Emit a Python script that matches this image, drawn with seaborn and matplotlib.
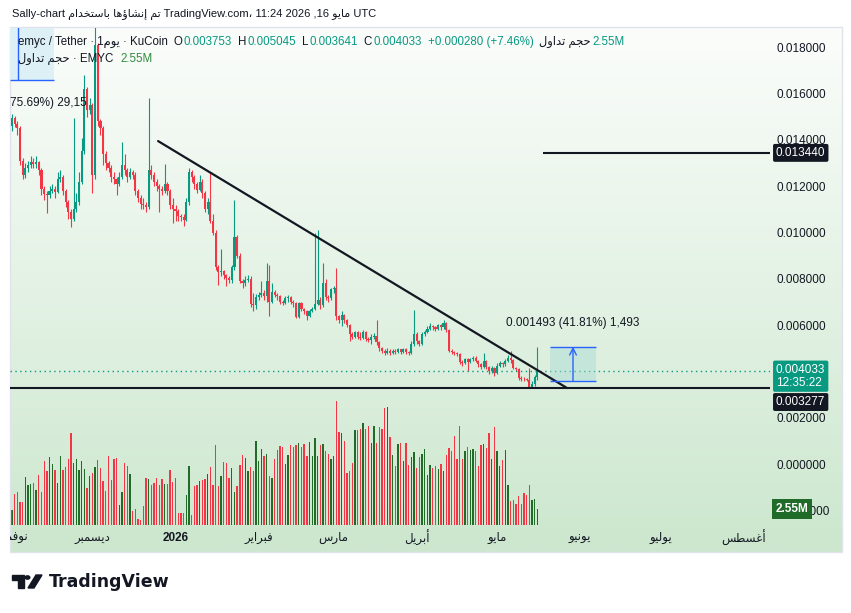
from __future__ import annotations

import matplotlib

matplotlib.use("Agg")
import matplotlib.pyplot as plt
import matplotlib.transforms as mtransforms
from matplotlib.patches import Circle, Polygon, Rectangle
import numpy as np
import pandas as pd
import seaborn as sns

FIG_W, FIG_H = 851, 613
START = pd.Timestamp("2025-11-01")

# EMYC/USDT daily candles from 1 Nov 2025, prices in 0.001 USDT
FIRST_OPEN = 14.6
CLOSE = [
    14.95, 14.7, 14.5, 13.1, 12.5, 12.8, 12.9, 13.05, 12.95, 13.05,
    12.7, 11.9, 11.65, 11.6, 11.8, 11.9, 11.75, 12.3, 12.4, 11.8,
    11.3, 10.9, 10.6, 11.0, 11.3, 12.2, 13.5, 16.2, 15.3, 15.5,
    12.5, 18.1, 14.8, 14.5, 13.4, 13.0, 12.8, 12.4, 12.3, 12.1,
    12.4, 12.9, 12.7, 12.4, 12.6, 12.5, 11.8, 11.5, 11.25, 11.2,
    11.1, 12.7, 12.5, 12.2, 12.0, 11.9, 11.8, 12.1, 11.8, 11.2,
    11.0, 10.95, 10.7, 10.65, 10.55, 11.3, 12.6, 12.4, 12.1, 11.85,
    12.2, 11.7, 11.0, 11.3, 10.5, 10.0, 8.5, 8.3, 8.35, 8.15,
    8.05, 7.95, 8.5, 9.8, 9.0, 7.9, 7.8, 7.95, 8.0, 6.9,
    6.85, 7.2, 7.3, 7.4, 7.25, 7.9, 7.0, 7.45, 7.3, 7.25,
    7.0, 6.95, 7.15, 7.2, 7.0, 6.95, 6.35, 6.95, 6.7, 6.6,
    6.4, 6.6, 6.7, 6.9, 7.1, 6.85, 7.8, 7.2, 7.15, 7.55,
    7.6, 6.4, 6.2, 6.45, 6.2, 6.0, 5.6, 5.5, 5.7, 5.5,
    5.45, 5.7, 5.4, 5.35, 5.5, 5.55, 5.25, 5.0, 4.9, 4.8,
    4.9, 4.8, 4.9, 4.85, 4.95, 4.85, 4.95, 4.85, 4.8, 5.2,
    5.6, 5.3, 5.2, 5.6, 5.7, 5.85, 5.95, 5.9, 5.85, 6.0,
    5.9, 6.1, 5.8, 4.9, 4.85, 4.8, 4.75, 4.4, 4.35, 4.55,
    4.4, 4.55, 4.6, 4.45, 4.3, 4.2, 4.45, 4.2, 4.0, 4.15,
    3.95, 4.25, 4.35, 4.3, 4.45, 4.6, 4.5, 4.15, 4.1, 3.72,
    3.68, 3.66, 3.64, 3.33, 3.45, 3.753, 4.033,
]
HIGH = [
    15.1, 15.05, 14.8, 14.6, 13.2, 13.0, 13.1, 13.3, 13.2, 13.3,
    13.1, 12.8, 12.0, 11.8, 12.0, 12.1, 12.0, 12.6, 12.7, 12.5,
    11.9, 11.4, 11.0, 14.95, 11.7, 12.6, 14.1, 16.8, 16.3, 15.8,
    15.6, 19.5, 18.2, 14.9, 14.6, 13.5, 13.1, 12.9, 12.6, 12.4,
    12.6, 13.9, 13.4, 12.8, 12.8, 12.7, 12.6, 11.9, 11.6, 11.5,
    11.3, 15.8, 12.9, 12.6, 12.3, 12.1, 12.0, 12.95, 12.2, 11.9,
    11.5, 11.2, 11.0, 10.8, 10.8, 11.5, 12.8, 12.7, 12.5, 12.2,
    12.5, 12.3, 11.8, 11.5, 12.6, 10.8, 10.1, 8.6, 9.3, 8.4,
    8.2, 8.1, 8.6, 11.4, 9.9, 9.1, 8.0, 8.1, 8.15, 8.1,
    7.4, 7.35, 7.45, 7.9, 7.5, 8.7, 8.6, 7.8, 7.5, 7.4,
    7.3, 7.1, 7.25, 7.3, 7.25, 7.1, 7.0, 7.0, 7.0, 6.75,
    6.65, 6.7, 6.8, 10.0, 10.1, 7.2, 8.7, 8.0, 7.3, 7.6,
    7.7, 8.45, 6.45, 6.6, 6.5, 6.25, 6.05, 5.7, 5.75, 5.75,
    5.7, 5.8, 5.75, 5.5, 5.6, 5.65, 6.2, 5.3, 5.05, 4.95,
    5.0, 4.95, 4.95, 4.95, 5.0, 4.98, 5.0, 5.0, 4.9, 5.3,
    6.65, 5.7, 5.35, 5.7, 5.8, 5.95, 6.1, 6.0, 5.95, 6.05,
    6.05, 6.2, 6.15, 5.85, 4.95, 4.9, 4.85, 4.8, 4.5, 4.6,
    4.6, 4.6, 4.65, 4.65, 4.5, 4.35, 4.8, 4.5, 4.25, 4.25,
    4.2, 4.35, 4.45, 4.4, 4.55, 4.7, 4.9, 4.55, 4.2, 4.15,
    3.8, 3.75, 3.72, 4.15, 3.6, 3.85, 5.045,
]
LOW = [
    14.4, 14.55, 14.2, 12.9, 12.3, 12.35, 12.6, 12.8, 12.8, 12.8,
    12.5, 11.6, 11.4, 10.85, 11.5, 11.7, 11.5, 11.7, 12.2, 11.6,
    11.1, 10.6, 10.25, 10.5, 10.9, 11.2, 12.1, 13.4, 15.0, 15.1,
    11.7, 12.3, 14.6, 14.2, 12.9, 12.7, 12.6, 12.2, 12.1, 11.6,
    12.0, 12.3, 12.5, 12.2, 12.3, 12.3, 11.6, 11.3, 11.0, 11.0,
    10.9, 11.0, 12.3, 12.0, 11.8, 10.9, 11.6, 11.7, 11.6, 11.0,
    10.4, 10.5, 10.5, 10.5, 10.3, 10.5, 11.2, 12.2, 11.9, 11.7,
    11.8, 11.5, 10.9, 10.8, 10.4, 9.9, 8.4, 7.75, 8.1, 8.0,
    7.7, 7.8, 7.8, 8.4, 8.9, 7.8, 7.6, 7.7, 7.85, 6.8,
    6.6, 6.7, 7.1, 7.2, 7.1, 7.0, 6.4, 6.95, 7.2, 7.1,
    6.9, 6.85, 6.9, 7.0, 6.9, 6.8, 6.3, 6.3, 6.6, 6.5,
    6.2, 6.35, 6.55, 6.65, 6.85, 6.7, 6.8, 7.1, 7.0, 7.1,
    7.4, 6.2, 6.1, 5.95, 6.1, 5.9, 5.3, 5.4, 5.45, 5.4,
    5.35, 5.4, 5.3, 5.25, 5.2, 5.4, 5.15, 4.9, 4.8, 4.7,
    4.75, 4.7, 4.75, 4.75, 4.8, 4.75, 4.8, 4.75, 4.7, 4.75,
    5.1, 5.2, 5.1, 5.15, 5.55, 5.65, 5.8, 5.8, 5.75, 5.8,
    5.8, 5.85, 5.7, 4.85, 4.75, 4.7, 4.65, 4.3, 4.25, 4.3,
    4.0, 4.35, 4.45, 4.4, 4.2, 4.1, 4.15, 4.1, 3.9, 3.95,
    3.8, 3.9, 4.2, 4.2, 4.25, 4.4, 4.35, 4.1, 4.0, 3.65,
    3.6, 3.6, 3.58, 3.28, 3.28, 3.35, 3.641,
]
# daily volume, millions of EMYC
VOLUME = [
    2.4, 5.0, 5.2, 3.7, 3.7, 7.6, 6.4, 6.5, 6.7, 5.6,
    7.9, 5.3, 10.2, 8.6, 10.8, 9.7, 8.7, 6.7, 11.0, 8.7,
    9.2, 10.5, 14.6, 9.9, 10.5, 8.7, 10.2, 8.9, 5.9, 7.8,
    8.3, 9.2, 10.3, 9.1, 7.0, 5.4, 11.0, 7.2, 10.5, 10.7,
    3.2, 5.2, 9.9, 9.4, 8.1, 2.2, 2.5, 1.0, 0.8, 3.0,
    7.5, 7.3, 6.4, 6.7, 7.5, 6.4, 7.3, 6.5, 6.5, 8.7,
    6.8, 7.5, 1.9, 1.9, 1.9, 4.8, 9.4, 1.6, 6.2, 6.4,
    7.0, 7.2, 7.3, 8.1, 9.2, 6.4, 12.7, 6.2, 7.8, 10.0,
    9.9, 7.5, 9.1, 5.2, 6.2, 9.5, 11.1, 10.7, 8.6, 9.2,
    8.6, 13.4, 10.2, 12.1, 11.0, 11.3, 7.8, 7.5, 10.5, 11.9,
    12.6, 12.4, 9.7, 11.1, 12.7, 12.4, 12.7, 13.0, 12.4, 12.9,
    11.0, 13.2, 11.0, 13.8, 11.0, 12.7, 12.9, 11.8, 11.3, 10.5,
    11.0, 19.7, 14.8, 14.6, 13.4, 8.3, 8.6, 9.9, 15.1, 15.1,
    15.3, 16.2, 15.3, 15.7, 13.0, 15.7, 13.0, 15.6, 15.3, 18.6,
    18.8, 14.0, 11.1, 9.4, 12.9, 13.0, 10.2, 13.0, 9.5, 10.8,
    11.6, 9.1, 10.8, 11.3, 12.1, 8.0, 9.5, 9.1, 9.4, 8.9,
    9.7, 8.6, 11.1, 12.2, 11.8, 14.2, 10.5, 15.7, 10.5, 11.8,
    12.4, 11.9, 12.1, 11.8, 9.4, 12.7, 12.9, 12.2, 14.6, 10.5,
    15.6, 11.8, 9.4, 10.3, 11.9, 6.4, 3.8, 4.0, 3.3, 4.6,
    3.3, 5.1, 4.8, 6.4, 4.0, 4.1, 2.55,
]

MONTH_STARTS = ["2025-11-01", "2025-12-01", "2026-01-01", "2026-02-01", "2026-03-01",
                "2026-04-01", "2026-05-01", "2026-06-01", "2026-07-01", "2026-08-01"]
MONTH_NAMES = ["نوفمبر", "ديسمبر", "2026", "فبراير", "مارس", "أبريل", "مايو", "يونيو", "يوليو", "أغسطس"]
# 0.004 sits under the live-price label, so TradingView leaves it out
PRICE_TICKS = [-0.002, 0.0, 0.002, 0.006, 0.008, 0.010, 0.012, 0.014, 0.016, 0.018]

# drawings (x in days since START, price in 0.001 USDT)
TREND_X = [54.5, 207.1]
TREND_Y = [13.95, 3.28]
RESISTANCE = 13.44
RESISTANCE_FROM = 198.1
SUPPORT = 3.277
LAST_PRICE = 4.033
RANGE_X = [200.7, 217.9]
RANGE_Y = [3.571, 5.064]
OLD_RANGE_RIGHT = 15.7
OLD_RANGE_LOW = 16.59
OLD_RANGE_ARROW = 2.2

DARK = "#131722"
UP = "#089981"
DOWN = "#f23645"
VOL_UP = "#1f6b27"
BLUE = "#2962ff"

# Arabic contextual forms: (isolated, final[, initial, medial]); matplotlib does no shaping
AR_FORMS = {
    "ا": "\ufe8d\ufe8e", "أ": "\ufe83\ufe84", "إ": "\ufe87\ufe88", "ؤ": "\ufe85\ufe86",
    "د": "\ufea9\ufeaa", "ر": "\ufead\ufeae", "و": "\ufeed\ufeee",
    "ب": "\ufe8f\ufe90\ufe91\ufe92", "ت": "\ufe95\ufe96\ufe97\ufe98", "ج": "\ufe9d\ufe9e\ufe9f\ufea0",
    "ح": "\ufea1\ufea2\ufea3\ufea4", "خ": "\ufea5\ufea6\ufea7\ufea8", "س": "\ufeb1\ufeb2\ufeb3\ufeb4",
    "ش": "\ufeb5\ufeb6\ufeb7\ufeb8", "ط": "\ufec1\ufec2\ufec3\ufec4", "غ": "\ufecd\ufece\ufecf\ufed0",
    "ف": "\ufed1\ufed2\ufed3\ufed4", "ل": "\ufedd\ufede\ufedf\ufee0", "م": "\ufee1\ufee2\ufee3\ufee4",
    "ن": "\ufee5\ufee6\ufee7\ufee8", "ه": "\ufee9\ufeea\ufeeb\ufeec", "ي": "\ufef1\ufef2\ufef3\ufef4",
}


def ar(text: str) -> str:
    out = []
    for i, ch in enumerate(text):
        forms = AR_FORMS.get(ch)
        if forms is None:
            out.append(ch)
            continue
        prev = AR_FORMS.get(text[i - 1]) if i > 0 else None
        nxt = AR_FORMS.get(text[i + 1]) if i + 1 < len(text) else None
        join_prev = prev is not None and len(prev) == 4
        join_next = nxt is not None and len(forms) == 4
        if join_prev and join_next:
            out.append(forms[3])
        elif join_prev:
            out.append(forms[1])
        elif join_next:
            out.append(forms[2])
        else:
            out.append(forms[0])
    return "".join(reversed(out))


def fx(px: float) -> float:
    return px / FIG_W


def fy(py: float) -> float:
    return 1 - py / FIG_H


def write_pieces(fig, x_px, y_px, pieces, size):
    renderer = fig.canvas.get_renderer()
    x = x_px
    for text, color, gap in pieces:
        t = fig.text(fx(x), fy(y_px), text, color=color, fontsize=size, ha="left", va="center")
        x += t.get_window_extent(renderer).width + gap


def main() -> None:
    sns.set_theme(style="white")
    plt.rcParams["font.family"] = ["Liberation Sans", "DejaVu Sans"]

    day = np.arange(len(CLOSE))
    close = np.array(CLOSE) * 1e-3
    high = np.array(HIGH) * 1e-3
    low = np.array(LOW) * 1e-3
    open_ = np.concatenate([[FIRST_OPEN * 1e-3], close[:-1]])
    up = close >= open_

    fig = plt.figure(figsize=(FIG_W / 100, FIG_H / 100), dpi=100)

    # panel background: white fading into pale green
    bg = fig.add_axes([fx(10), fy(552), fx(832), 525 / FIG_H], zorder=0)
    top = np.array([251, 253, 251]) / 255
    bottom = np.array([204, 231, 206]) / 255
    t = np.linspace(0, 1, 256)[:, None, None]
    bg.imshow(top * (1 - t) + bottom * t, extent=[0, 1, 0, 1], aspect="auto")
    bg.set_axis_off()
    fig.patches.append(Rectangle((fx(10), fy(552)), fx(832), 525 / FIG_H, transform=fig.transFigure,
                                 fill=False, edgecolor="#e0e3eb", linewidth=1, zorder=1))

    ax = fig.add_axes([fx(10), fy(552), fx(760), 524 / FIG_H], zorder=2)
    axv = ax.twinx()
    axv.set_zorder(1)
    ax.patch.set_visible(False)
    axv.patch.set_visible(False)

    # volume
    vol = pd.DataFrame({"day": day, "volume": VOLUME, "dir": np.where(up, "up", "down")})
    sns.barplot(data=vol, x="day", y="volume", hue="dir", palette={"up": VOL_UP, "down": DOWN},
                native_scale=True, dodge=False, width=0.5, errorbar=None, legend=False,
                saturation=1, linewidth=0, ax=axv)
    axv.set_ylim(-4.29, 79.0)
    axv.set_yticks([])
    axv.set_ylabel("")
    axv.set_xlabel("")

    # candles
    colors = np.where(up, UP, DOWN)
    ax.vlines(day, low, high, colors=colors, linewidth=0.8, zorder=2)
    ax.bar(day, close - open_, bottom=open_, width=0.78, color=colors, linewidth=0, zorder=3)

    xmin, xmax = -0.75, 282.8
    ax.set_xlim(xmin, xmax)
    ax.set_ylim(-0.003801, 0.018834)

    # drawings
    ax.plot(TREND_X, np.array(TREND_Y) * 1e-3, color=DARK, linewidth=1.6, zorder=5)
    ax.hlines(RESISTANCE * 1e-3, RESISTANCE_FROM, xmax, color=DARK, linewidth=1.5, zorder=5)
    ax.axhline(SUPPORT * 1e-3, color=DARK, linewidth=1.5, zorder=5)
    ax.axhline(LAST_PRICE * 1e-3, color=UP, linewidth=1, linestyle=(0, (1, 2.5)), zorder=4)

    lo, hi = RANGE_Y[0] * 1e-3, RANGE_Y[1] * 1e-3
    ax.add_patch(Rectangle((RANGE_X[0], lo), RANGE_X[1] - RANGE_X[0], hi - lo,
                           facecolor="#a7dcd6", alpha=0.45, edgecolor="none", zorder=4))
    ax.hlines([lo, hi], RANGE_X[0], RANGE_X[1], color=BLUE, linewidth=1, zorder=5)
    mid = (RANGE_X[0] + RANGE_X[1]) / 2
    ax.annotate("", xy=(mid, hi), xytext=(mid, lo),
                arrowprops=dict(arrowstyle="->", color=BLUE, lw=1, shrinkA=0, shrinkB=0), zorder=5)
    ax.annotate("0.001493 (41.81%) 1,493", xy=(mid, hi), xytext=(0, 17), textcoords="offset points",
                ha="center", va="center", fontsize=8.5, color=DARK, zorder=6)

    ax.add_patch(Rectangle((xmin - 5, OLD_RANGE_LOW * 1e-3), OLD_RANGE_RIGHT - xmin + 5, 0.01,
                           facecolor="#dcf0f6", edgecolor="none", zorder=1))
    ax.hlines(OLD_RANGE_LOW * 1e-3, xmin, OLD_RANGE_RIGHT, color=BLUE, linewidth=1, zorder=5)
    ax.vlines(OLD_RANGE_ARROW, OLD_RANGE_LOW * 1e-3, 0.02, color=BLUE, linewidth=1, zorder=5)
    ax.text(xmin, 0.015594, "75.69%) 29,15", fontsize=8.5, color=DARK, ha="left", va="center", zorder=6)

    # price scale
    ax.yaxis.tick_right()
    ax.set_yticks(PRICE_TICKS)
    ax.set_yticklabels([f"{v:.6f}" for v in PRICE_TICKS])
    ax.tick_params(axis="y", length=0, pad=5, labelsize=8.5, labelcolor=DARK)
    ax.set_xticks([])
    sns.despine(ax=ax, left=True, bottom=True, right=True, top=True)
    sns.despine(ax=axv, left=True, bottom=True, right=True, top=True)

    for start, name in zip(MONTH_STARTS, MONTH_NAMES):
        pos = (pd.Timestamp(start) - START).days
        bold = name.isdigit()
        ax.text(pos, 0.0267, name if bold else ar(name), transform=ax.get_xaxis_transform(),
                ha="center", va="center", fontsize=8.5, color=DARK,
                fontweight="bold" if bold else "normal", clip_on=True)

    side = mtransforms.blended_transform_factory(ax.transAxes, ax.transData)
    label_x = 1 + 6 / 760
    box = dict(boxstyle="round,pad=0.25,rounding_size=0.15", ec="none")
    ax.annotate("0.013440", xy=(label_x, RESISTANCE * 1e-3), xycoords=side, ha="left", va="center",
                fontsize=8.5, color="white", annotation_clip=False, zorder=7, bbox={**box, "fc": DARK})
    ax.annotate("0.004033\n12:35:22", xy=(label_x, LAST_PRICE * 1e-3), xycoords=side,
                xytext=(0, -4), textcoords="offset points", ha="left", va="center",
                fontsize=8.5, color="white", linespacing=1.15, annotation_clip=False, zorder=7,
                bbox={**box, "fc": UP})
    ax.annotate("0.003277", xy=(label_x, SUPPORT * 1e-3), xycoords=side,
                xytext=(0, -10), textcoords="offset points", ha="left", va="center",
                fontsize=8.5, color="white", annotation_clip=False, zorder=7, bbox={**box, "fc": DARK})
    vol_side = mtransforms.blended_transform_factory(ax.transAxes, axv.transData)
    ax.annotate("2.55M", xy=(label_x, VOLUME[-1]), xycoords=vol_side, ha="left", va="center",
                fontsize=8.5, color="white", fontweight="bold", annotation_clip=False, zorder=7,
                bbox=dict(boxstyle="square,pad=0.3", fc=VOL_UP, ec="none"))

    # header texts
    fig.text(fx(12), fy(14), "Sally-chart " + ar("تم إنشاؤها باستخدام") + " TradingView.com، 11:24 2026 ,16 "
             + ar("مايو") + " UTC", fontsize=8.0, color=DARK, ha="left", va="center")
    write_pieces(fig, 18, 42, [
        ("emyc / Tether · 1" + ar("يوم") + " · KuCoin", DARK, 6),
        ("O", DARK, 1), ("0.003753", UP, 6),
        ("H", DARK, 1), ("0.005045", UP, 6),
        ("L", DARK, 1), ("0.003641", UP, 6),
        ("C", DARK, 1), ("0.004033", UP, 6),
        ("+0.000280 (+7.46%)", UP, 6),
        (ar("حجم تداول"), DARK, 1), ("2.55M", UP, 0),
    ], 8.3)
    write_pieces(fig, 18, 59, [
        (ar("حجم تداول") + " · EMYC", DARK, 7), ("2.55M", "#2e8b3d", 0),
    ], 8.3)

    # TradingView logo
    fig.patches.append(Polygon([(fx(12), fy(575)), (fx(24), fy(575)), (fx(24), fy(588)), (fx(18), fy(588)),
                                (fx(18), fy(580)), (fx(12), fy(580))], closed=True,
                               transform=fig.transFigure, color=DARK))
    fig.patches.append(Circle((fx(27.5), fy(577.5)), fx(2.3), transform=fig.transFigure, color=DARK))
    fig.patches.append(Polygon([(fx(28), fy(588)), (fx(34), fy(588)), (fx(42), fy(575)), (fx(36), fy(575))],
                               closed=True, transform=fig.transFigure, color=DARK))
    fig.text(fx(49), fy(582), "TradingView", fontsize=12.5, fontweight="bold", color=DARK,
             family="DejaVu Sans", ha="left", va="center")

    fig.savefig("out.png", dpi=100)
    plt.close(fig)


if __name__ == "__main__":
    main()
